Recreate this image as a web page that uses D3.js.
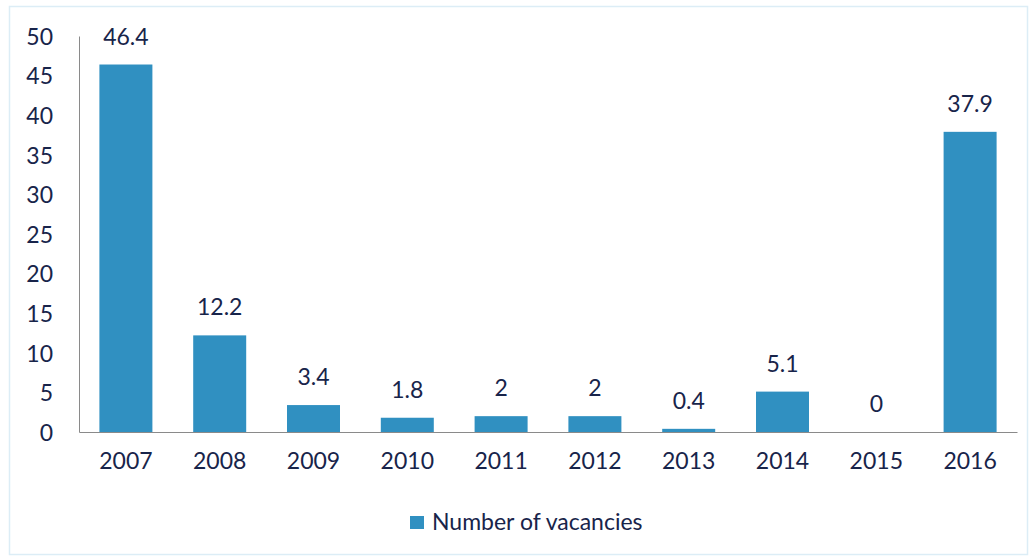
<!DOCTYPE html>
<html>
<head>
<meta charset="utf-8">
<script src="https://cdn.jsdelivr.net/npm/d3@7"></script>
<style>
  body { margin: 0; background: #fff; }
  text { font-family: Lato, "Open Sans", sans-serif; fill: #18244a; }
</style>
</head>
<body>
<script>
//////////////// Data ////////////////
var years = ["2007", "2008", "2009", "2010", "2011", "2012", "2013", "2014", "2015", "2016"];
var vacancies = [46.4, 12.2, 3.4, 1.8, 2, 2, 0.4, 5.1, 0, 37.9];
var yTicks = [0, 5, 10, 15, 20, 25, 30, 35, 40, 45, 50];
var seriesName = "Number of vacancies";

var rows = years.map(function(y, i) { return {year: y, value: vacancies[i]}; });

//////////////// SVG ////////////////
var W = 1034, H = 559;
var margin = {top: 36, right: 17, bottom: 127, left: 79},
  width = W - margin.left - margin.right,
  height = H - margin.top - margin.bottom;
var barColor = "#3090c1";
var fontSize = "23px";

var root = d3.select("body").append("svg")
  .attr("width", W)
  .attr("height", H);

// faint frame round the chart
root.append("rect")
  .attr("x", 9.5).attr("y", 6.5)
  .attr("width", 1018).attr("height", 548)
  .attr("fill", "none")
  .attr("stroke", "#dcedf6")
  .attr("stroke-width", 1.5);

var svg = root.append("g")
  .attr("transform", "translate(" + margin.left + "," + margin.top + ")");

//////////////// Scales ////////////////
var x = d3.scaleBand()
  .domain(years)
  .range([0, width])
  .paddingInner(0.435)
  .paddingOuter(0.2175);
var y = d3.scaleLinear()
  .domain([0, 50])
  .range([height, 0]);

//////////////// Axes ////////////////
var yAxis = svg.append("g")
  .call(d3.axisLeft(y).tickValues(yTicks).tickSize(0).tickPadding(26));
yAxis.select(".domain").attr("stroke", "#8a8a8a");
yAxis.selectAll("text").style("font-size", fontSize).attr("dy", "0.36em");

var xAxis = svg.append("g")
  .attr("transform", "translate(0," + height + ")")
  .call(d3.axisBottom(x).tickSize(0).tickPadding(21));
xAxis.select(".domain").attr("stroke", "#8a8a8a");
xAxis.selectAll("text").style("font-size", fontSize).attr("dy", "0.71em");

//////////////// Bars ////////////////
svg.selectAll("rect.bar")
  .data(rows)
  .enter()
  .append("rect")
  .attr("class", "bar")
  .attr("x", function(d) { return x(d.year); })
  .attr("y", function(d) { return y(d.value); })
  .attr("width", x.bandwidth())
  .attr("height", function(d) { return height - y(d.value); })
  .attr("fill", barColor);

svg.selectAll("text.label")
  .data(rows)
  .enter()
  .append("text")
  .attr("class", "label")
  .attr("x", function(d) { return x(d.year) + x.bandwidth() / 2; })
  .attr("y", function(d) { return y(d.value) - 20; })
  .style("text-anchor", "middle")
  .style("font-size", fontSize)
  .text(function(d) { return d.value; });

//////////////// Legend ////////////////
var legend = root.append("g").attr("transform", "translate(410,516)");
legend.append("rect")
  .attr("width", 14).attr("height", 13)
  .attr("fill", barColor);
legend.append("text")
  .attr("x", 22).attr("y", 14)
  .style("font-size", fontSize)
  .text(seriesName);
</script>
</body>
</html>
